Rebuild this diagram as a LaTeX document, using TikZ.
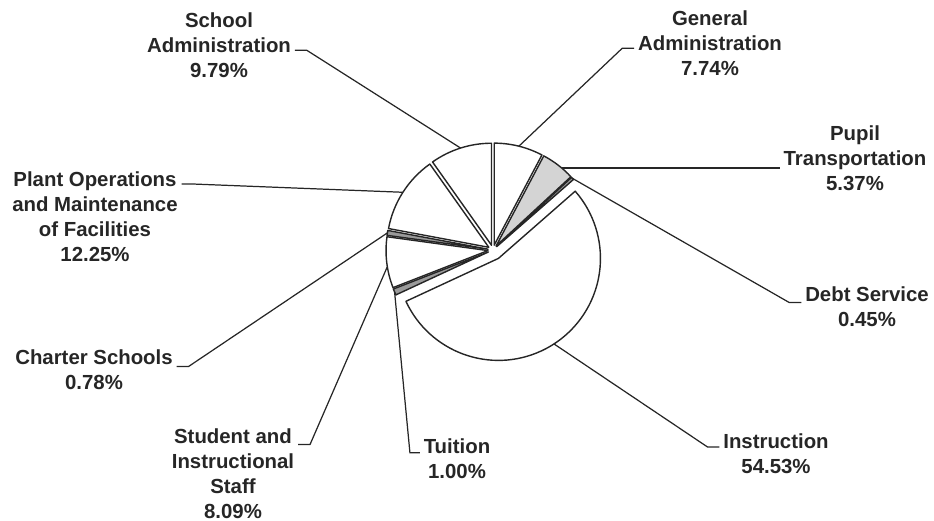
\documentclass[tikz,border=0pt]{standalone}
\usepackage{fontspec}
\setmainfont{Liberation Sans}
\usepackage{tikz}
\usetikzlibrary{calc}
\definecolor{pieline}{HTML}{262626}
\definecolor{piegray}{HTML}{D4D4D4}
\definecolor{sliver}{HTML}{9A9A9A}

\begin{document}
\begin{tikzpicture}[
  x=0.02cm, y=0.02cm,
  slice/.style={draw=pieline, line width=0.8pt, fill=white, line join=round},
  lbl/.style={align=center, inner sep=2pt, text=black!85, font=\bfseries\fontsize{11.6}{14.2}\selectfont},
  leader/.style={draw=pieline, line width=0.7pt}
]
  \useasboundingbox (0,0) rectangle (934,521);
  \coordinate (c) at (493,271);

  % slices, each pushed out along its middle angle
  \draw[slice] ($(c)+(76.05:5)$) -- ++(62.1:102) arc[start angle=62.1, end angle=90, radius=102] -- cycle;
  \draw[slice, fill=piegray] ($(c)+(52.45:5)$) -- ++(42.8:102) arc[start angle=42.8, end angle=62.1, radius=102] -- cycle;
  \draw[slice, fill=sliver] ($(c)+(42:5)$) -- ++(41.2:102) arc[start angle=41.2, end angle=42.8, radius=102] -- cycle;
  \draw[slice] ($(c)+(-56.95:10)$) -- ++(-155.1:102) arc[start angle=-155.1, end angle=41.2, radius=102] -- cycle;
  \draw[slice, fill=sliver] ($(c)+(203.1:5)$) -- ++(201.3:102) arc[start angle=201.3, end angle=204.9, radius=102] -- cycle;
  \draw[slice] ($(c)+(186.75:5)$) -- ++(172.2:102) arc[start angle=172.2, end angle=201.3, radius=102] -- cycle;
  \draw[slice, fill=sliver] ($(c)+(170.8:5)$) -- ++(169.4:102) arc[start angle=169.4, end angle=172.2, radius=102] -- cycle;
  \draw[slice] ($(c)+(147.35:5)$) -- ++(125.3:102) arc[start angle=125.3, end angle=169.4, radius=102] -- cycle;
  \draw[slice] ($(c)+(107.65:5)$) -- ++(90:102) arc[start angle=90, end angle=125.3, radius=102] -- cycle;

  % points on the rim where the leaders end
  \coordinate (p-general) at ($(c)+(76:107)$);
  \coordinate (p-pupil) at ($(c)+(50:107)$);
  \coordinate (p-debt) at ($(c)+(42:107)$);
  \coordinate (p-instr) at ($(c)+(-57:112)$);
  \coordinate (p-tuition) at ($(c)+(203.1:107)$);
  \coordinate (p-student) at ($(c)+(189:107)$);
  \coordinate (p-charter) at ($(c)+(170.8:107)$);
  \coordinate (p-plant) at ($(c)+(147.35:107)$);
  \coordinate (p-school) at ($(c)+(107.65:107)$);

  % labels
  \node[lbl] (school) at (219,476) {School\\Administration\\9.79\%};
  \node[lbl] (general) at (710,478) {General\\Administration\\7.74\%};
  \node[lbl] (pupil) at (855,363) {Pupil\\Transportation\\5.37\%};
  \node[lbl] (debt) at (867,214) {Debt Service\\0.45\%};
  \node[lbl] (instr) at (776,67) {Instruction\\54.53\%};
  \node[lbl] (tuition) at (457,62) {Tuition\\1.00\%};
  \node[lbl] (student) at (233,47) {Student and\\Instructional\\Staff\\8.09\%};
  \node[lbl] (charter) at (94,151) {Charter Schools\\0.78\%};
  \node[lbl] (plant) at (95,304) {Plant Operations\\and Maintenance\\of Facilities\\12.25\%};

  % leaders
  \draw[leader] ([yshift=-3pt]school.east) -- ++(12,0) -- (p-school);
  \draw[leader] ([yshift=-3pt]general.west) -- ++(-12,0) -- (p-general);
  \draw[leader] (p-pupil) -- (p-pupil -| pupil.west);
  \draw[leader] ([yshift=2.5pt]debt.west) -- ++(-12,0) -- (p-debt);
  \draw[leader] ([yshift=4pt]instr.west) -- ++(-12,0) -- (p-instr);
  \draw[leader] ([yshift=3.5pt]tuition.west) -- ++(-10,0) -- (p-tuition);
  \draw[leader] ([yshift=-11pt]student.north east) -- ++(12,0) -- (p-student);
  \draw[leader] ([yshift=2pt]charter.east) -- ++(12,0) -- (p-charter);
  \draw[leader] ([yshift=-9pt]plant.north east) -- ++(12,0) -- (p-plant);
\end{tikzpicture}
\end{document}
